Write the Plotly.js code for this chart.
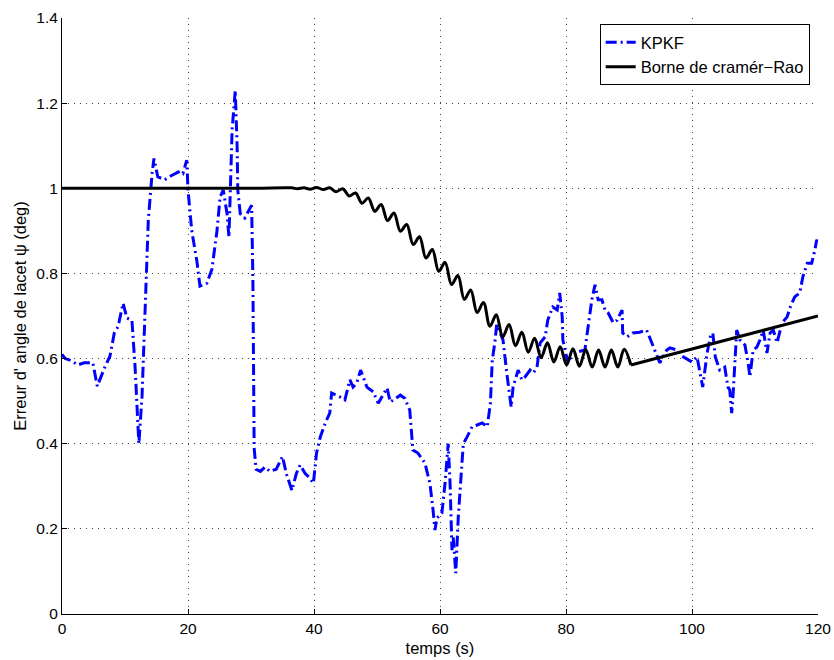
<!DOCTYPE html>
<html>
<head>
<meta charset="utf-8">
<script src="https://cdn.plot.ly/plotly-3.0.1.min.js"></script>
<style>html,body{margin:0;padding:0;background:#fff;}#chart{width:834px;height:660px;}</style>
</head>
<body>
<div id="chart"></div>
<script>
// KPKF estimation error (deg) vs time (s)
const kpkfT = [0,0.5,1.5,2.5,3.5,4.9,5.6,6.8,7.6,8.3,8.9,9.7,10.3,11.1,11.6,11.9,12.2,12.7,13.2,13.7,14.3,14.6,15.2,16.3,17.4,18.7,19.2,19.8,20.0,20.6,21.4,21.9,23.0,23.8,24.6,25.1,25.6,26.2,26.5,26.8,27.0,27.5,27.8,27.9,28.3,29.0,30.1,30.3,30.5,30.8,
31.5,32.2,33.0,34.0,35.0,35.6,36.5,37.2,37.8,38.6,39.3,39.9,40.4,41.0,41.8,42.5,42.8,44.1,44.9,45.7,46.2,46.8,47.4,48.4,49.4,50.2,50.8,51.6,52.1,52.9,53.7,54.4,55.2,55.7,56.5,57.6,58.4,58.9,59.2,59.5,60.3,60.8,61.3,61.6,61.9,62.1,62.5,62.9,63.5,63.7,64.3,65.1,65.9,66.7,67.5,68.0,68.3,68.7,69.0,70.0,70.6,71.3,71.6,72.4,73.0,73.5,74.3,74.8,75.4,75.9,76.7,77.1,77.9,78.6,79.0,79.4,79.5,80.2,81.0,81.7,83.0,83.5,84.1,84.6,85.1,85.7,86.2,86.7,87.5,88.1,88.6,88.9,89.0,89.7,90.6,91.7,92.8,93.6,94.4,94.9,96.0,96.5,97.6,98.6,100,100.8,101.7,102.4,102.9,103.3,103.7,104.0,104.4,105.2,105.7,106.0,106.3,106.5,106.8,107.1,107.6,108.4,108.9,109.2,109.7,110.3,110.8,111.3,111.9,112.4,112.9,113.5,114.3,115.1,115.6,116.3,117.1,117.6,118.3,119.0,119.5,119.8,120];
const kpkfV = [0.61,0.60,0.595,0.585,0.59,0.59,0.535,0.58,0.605,0.66,0.675,0.73,0.695,0.69,0.58,0.47,0.40,0.51,0.71,0.925,1.035,1.07,1.027,1.02,1.03,1.04,1.035,1.066,0.996,0.90,0.83,0.77,0.777,0.81,0.90,0.98,0.996,0.94,0.885,1.02,1.137,1.23,1.097,0.996,0.94,0.93,0.96,0.785,0.39,0.34,
0.335,0.345,0.335,0.34,0.37,0.33,0.29,0.33,0.35,0.33,0.32,0.307,0.378,0.416,0.449,0.472,0.519,0.51,0.503,0.55,0.533,0.543,0.573,0.533,0.522,0.495,0.51,0.531,0.498,0.507,0.514,0.507,0.479,0.385,0.378,0.355,0.307,0.244,0.197,0.225,0.237,0.307,0.40,0.307,0.15,0.18,0.096,0.228,0.36,0.40,0.416,0.44,0.444,0.449,0.44,0.495,0.597,0.637,0.68,0.644,0.566,0.486,0.533,0.573,0.55,0.557,0.573,0.566,0.58,0.637,0.651,0.69,0.721,0.714,0.754,0.698,0.644,0.597,0.604,0.615,0.62,0.674,0.738,0.773,0.738,0.738,0.714,0.707,0.684,0.69,0.707,0.714,0.66,0.651,0.66,0.662,0.667,0.637,0.604,0.59,0.62,0.625,0.62,0.604,0.592,0.604,0.533,0.613,0.651,0.66,0.604,0.59,0.573,0.58,0.533,0.526,0.472,0.51,0.597,0.667,0.644,0.632,0.59,0.557,0.62,0.627,0.644,0.667,0.613,0.66,0.667,0.637,0.684,0.698,0.721,0.745,0.754,0.792,0.824,0.824,0.855,0.879,0.87];

// Cramér-Rao bound (deg) vs time (s)
const crbT = [0,30,36.4,37.4,38.4,39.4,40.4,41.5,42.50,43.52,44.56,45.58,46.59,47.61,48.62,49.64,50.66,51.67,52.69,53.71,54.72,55.74,56.75,57.77,58.78,59.80,60.81,61.83,62.84,63.86,64.87,65.89,66.90,67.92,68.93,69.95,70.96,71.98,72.99,74.01,75.02,76.04,77.05,78.07,79.08,80.10,81.11,82.13,83.14,84.16,85.17,86.19,87.20,88.22,89.23,90.3];
const crbV = [1.0,1.0,1.001,0.999,1.001,0.998,1.002,0.997,1.001,0.992,0.999,0.982,0.989,0.965,0.977,0.946,0.962,0.924,0.942,0.899,0.915,0.868,0.886,0.836,0.856,0.805,0.826,0.774,0.795,0.739,0.761,0.708,0.732,0.676,0.703,0.651,0.680,0.630,0.662,0.615,0.648,0.602,0.637,0.592,0.628,0.585,0.623,0.582,0.621,0.580,0.620,0.580,0.620,0.580,0.622,0.585];
const crbLinT = [90.3,120];
const crbLinV = [0.585,0.70];

const xTicks = [0,20,40,60,80,100,120];
const yTicks = [0,0.2,0.4,0.6,0.8,1,1.2,1.4];
const yTickText = ['0','0.2','0.4','0.6','0.8','1','1.2','1.4'];

const fontFam = 'Liberation Sans, Arial, sans-serif';

const traces = [
  {x: kpkfT, y: kpkfV, type: 'scatter', mode: 'lines', name: 'KPKF',
   line: {color: '#0000ff', width: 3, dash: '11px,4px,2px,4px'}},
  {x: crbT, y: crbV, type: 'scatter', mode: 'lines', name: 'Borne de cramér\u2212Rao',
   line: {color: '#000000', width: 3, shape: 'spline', smoothing: 1}, legendgroup: 'crb'},
  {x: crbLinT, y: crbLinV, type: 'scatter', mode: 'lines', showlegend: false,
   line: {color: '#000000', width: 3}, legendgroup: 'crb'}
];

const axisCommon = {
  showline: true, linecolor: '#000', linewidth: 1,
  ticks: 'inside', ticklen: 5, tickcolor: '#000',
  showgrid: true, gridcolor: '#444', gridwidth: 1, griddash: '1px,5px',
  zeroline: false, mirror: false,
  tickfont: {family: fontFam, size: 15.5, color: '#000'}
};

const layout = {
  width: 834, height: 660,
  margin: {l: 62, r: 16, t: 18, b: 46},
  paper_bgcolor: '#fff', plot_bgcolor: '#fff',
  font: {family: fontFam, size: 15, color: '#000'},
  showlegend: true,
  legend: {x: 0.989, xanchor: 'right', y: 0.99, yanchor: 'top',
           bordercolor: '#000', borderwidth: 1, bgcolor: '#fff',
           font: {family: fontFam, size: 16.5, color: '#000'},
           tracegroupgap: 0, itemwidth: 30},
  xaxis: Object.assign({}, axisCommon, {
    range: [0, 120], tickvals: xTicks, ticktext: xTicks.map(String),
    title: {text: 'temps (s)', font: {family: fontFam, size: 16.5}, standoff: 6}
  }),
  yaxis: Object.assign({}, axisCommon, {
    range: [0, 1.4], tickvals: yTicks, ticktext: yTickText,
    title: {text: "Erreur d' angle de lacet \u03c8 (deg)", font: {family: fontFam, size: 16.5}, standoff: 5}
  })
};

Plotly.newPlot('chart', traces, layout, {displayModeBar: false, staticPlot: true});
</script>
</body>
</html>
